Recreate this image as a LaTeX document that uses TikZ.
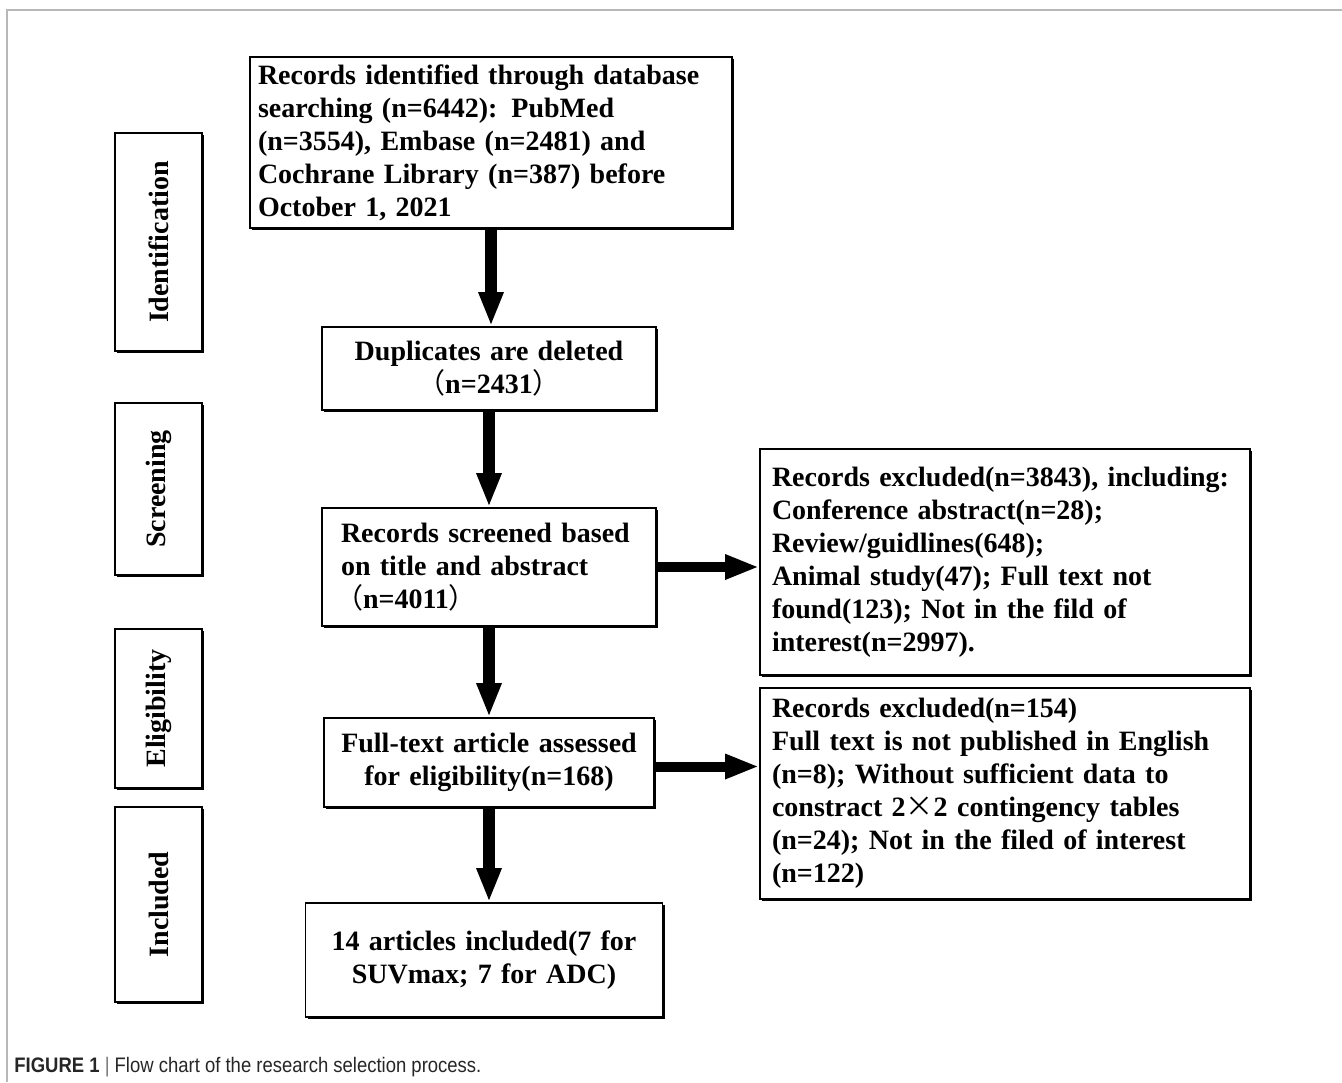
\documentclass[tikz,border=0pt]{standalone}
\usepackage{fontspec}
\setmainfont{Liberation Serif}
\newfontfamily\cjk{Noto Sans CJK SC}
\newfontfamily\capfont[FakeStretch=0.88]{Liberation Sans}
\usetikzlibrary{arrows.meta,shadows}
\definecolor{framegray}{gray}{0.72}
\definecolor{bargray}{gray}{0.45}

\begin{document}
\begin{tikzpicture}
  [x=0.5pt,y=-0.5pt,
   every node/.style={font=\fontsize{14pt}{16.5pt}\selectfont\bfseries,inner xsep=4pt,inner ysep=0pt},
   box/.style={draw,line width=0.9pt,fill=white,
     drop shadow={shadow xshift=1pt,shadow yshift=-1pt,fill=black,opacity=1}},
   phase/.style={box,minimum width=43.5pt},
   flow/.style={line width=6pt,-{Triangle[length=17pt,width=11.5pt]}}]
  \useasboundingbox (0,0) rectangle (1342,1082);
  \draw[framegray,line width=1pt] (7,1082) -- (7,10) -- (1342,10);

  % phases
  \node (ident) at (158.5,242)   [phase,minimum height=109pt]  {\rotatebox{90}{Identification}};
  \node (scr)   at (158.5,489)   [phase,minimum height=86pt]   {\rotatebox{90}{Screening}};
  \node (elig)  at (158.5,708.5) [phase,minimum height=79.5pt] {\rotatebox{90}{Eligibility}};
  \node (inc)   at (158.5,904.5) [phase,minimum height=97.5pt] {\rotatebox{90}{Included}};

  % main column
  \node (top) at (491,142.5) [box,text width=233pt,align=left,minimum height=85.5pt]
    {Records identified through database\\ searching (n=6442): PubMed\\ (n=3554), Embase (n=2481) and\\ Cochrane Library (n=387) before\\ October 1, 2021};
  \node (dup) at (489,368.5) [box,text width=159pt,align=center,minimum height=41.5pt]
    {Duplicates are deleted\\ {\cjk\mdseries （}n=2431{\cjk\mdseries ）}};
  \node (screen) at (489,567) [box,inner xsep=9.5pt,text width=148pt,align=left,minimum height=59pt]
    {Records screened based\\ on title and abstract\\ \hspace*{-3pt}{\cjk\mdseries （}n=4011{\cjk\mdseries ）}};
  \node (full) at (489,762.5) [box,text width=157pt,align=center,minimum height=44.5pt]
    {Full-text article assessed\\ for eligibility(n=168)};
  \node (incl) at (484,960) [box,text width=170.5pt,align=center,minimum height=57pt]
    {14 articles included(7 for\\ SUVmax; 7 for ADC)};

  % exclusions
  \node (excl1) at (1005,562) [box,inner xsep=6pt,text width=233pt,align=left,minimum height=113pt]
    {Records excluded(n=3843), including:\\ Conference abstract(n=28);\\ Review/guidlines(648);\\ Animal study(47); Full text not\\ found(123); Not in the fild of\\ interest(n=2997).};
  \node (excl2) at (1005,793.5) [box,inner xsep=6pt,text width=233pt,align=left,minimum height=105.5pt]
    {Records excluded(n=154)\\ Full text is not published in English\\ (n=8); Without sufficient data to\\ constract 2{\cjk\mdseries ×}2 contingency tables\\ (n=24); Not in the filed of interest\\ (n=122)};

  \draw[flow] (top.south) -- (top.south |- dup.north);
  \draw[flow] (dup.south) -- (dup.south |- screen.north);
  \draw[flow] (screen.south) -- (screen.south |- full.north);
  \draw[flow] (full.south) -- (full.south |- incl.north);
  \draw[flow,line width=5pt] (screen.east) -- (screen.east -| excl1.west);
  \draw[flow,line width=5pt] ([yshift=-2pt]full.east) -- ([yshift=-2pt]full.east -| excl2.west);

  \node (cap) at (14,1067) [anchor=west,inner xsep=0pt,text=black!85,font=\capfont\fontsize{10.5pt}{12pt}\selectfont]
    {\textbf{FIGURE 1} {\color{bargray}|} Flow chart of the research selection process.};
\end{tikzpicture}
\end{document}
